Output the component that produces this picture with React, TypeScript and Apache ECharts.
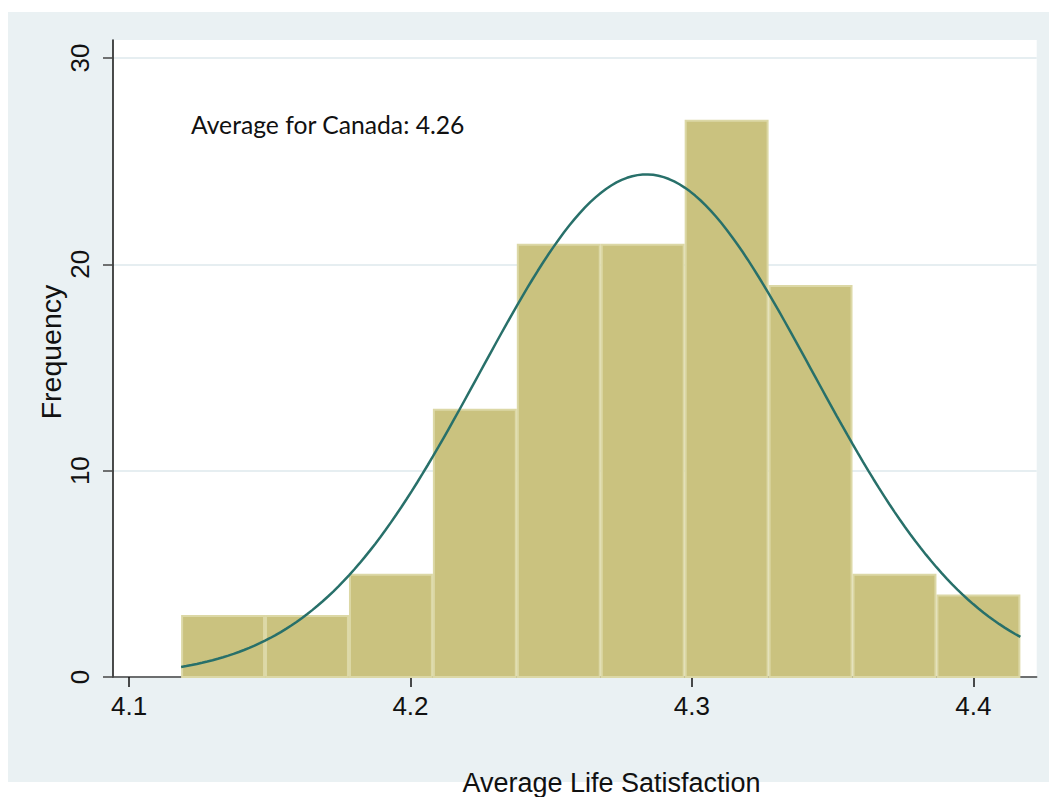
import React, { useEffect, useRef } from "react";
import * as echarts from "echarts";

// Histogram data
const binStart = 4.1185;
const binWidth = 0.02982;
const binCounts = [3, 3, 5, 13, 21, 21, 27, 19, 5, 4];
const xTicks = [4.1, 4.2, 4.3, 4.4];
const yTicks = [0, 10, 20, 30];
// Normal density overlay parameters
const curveMean = 4.2838;
const curveSd = 0.0591;
const curveSamples = 160;
const annotation = "Average for Canada: 4.26";
const xTitle = "Average Life Satisfaction";
const yTitle = "Frequency";

export default function App() {
  const ref = useRef<HTMLDivElement>(null);
  useEffect(() => {
    if (!ref.current) return;
    const chart = echarts.init(ref.current, undefined, { renderer: "svg" });
    const bars = binCounts.map((c, i) => [
      binStart + i * binWidth,
      binStart + (i + 1) * binWidth,
      c,
    ]);
    const total = binCounts.reduce((a, b) => a + b, 0);
    const binEnd = binStart + binCounts.length * binWidth;
    const curve: number[][] = [];
    for (let k = 0; k <= curveSamples; k++) {
      const x = binStart + ((binEnd - binStart) * k) / curveSamples;
      const z = (x - curveMean) / curveSd;
      const y =
        (total * binWidth * Math.exp(-0.5 * z * z)) /
        (curveSd * Math.sqrt(2 * Math.PI));
      curve.push([x, y]);
    }
    chart.setOption({
      animation: false,
      backgroundColor: "#ffffff",
      graphic: [
        {
          type: "rect",
          z: -100,
          silent: true,
          shape: { x: 8, y: 12, width: 1041, height: 770 },
          style: { fill: "#eaf1f3" },
        },
        {
          type: "text",
          x: 191,
          y: 124,
          z: 100,
          style: {
            text: annotation,
            font: '24.7px Lato, "Open Sans", sans-serif',
            fill: "#111",
            textVerticalAlign: "middle",
          },
        },
        {
          type: "text",
          x: 611.5,
          y: 782.5,
          z: 100,
          style: {
            text: xTitle,
            font: '27px "Liberation Sans", Arial, sans-serif',
            fill: "#111",
            textAlign: "center",
            textVerticalAlign: "middle",
          },
        },
        {
          type: "text",
          x: 51,
          y: 352,
          rotation: Math.PI / 2,
          z: 100,
          style: {
            text: yTitle,
            font: '28.5px "Liberation Sans", Arial, sans-serif',
            fill: "#111",
            textAlign: "center",
            textVerticalAlign: "middle",
          },
        },
      ],
      grid: {
        left: 113,
        top: 40,
        right: 12.3,
        bottom: 120,
        show: true,
        backgroundColor: "#ffffff",
        borderWidth: 0,
      },
      xAxis: {
        type: "value",
        min: 4.0943,
        max: 4.4225,
        axisLine: { show: true, lineStyle: { color: "#444", width: 1.5 } },
        axisTick: {
          show: true,
          length: 10,
          customValues: xTicks,
          lineStyle: { color: "#111", width: 1.5 },
        },
        axisLabel: {
          customValues: xTicks,
          margin: 16,
          color: "#111",
          fontSize: 26,
          fontFamily: '"Liberation Sans", Arial, sans-serif',
          formatter: (v: number) => v.toFixed(1),
        },
        splitLine: { show: false },
      },
      yAxis: {
        type: "value",
        min: 0,
        max: 30.87,
        axisLine: { show: true, lineStyle: { color: "#111", width: 1.5 } },
        axisTick: {
          show: true,
          length: 10,
          customValues: yTicks,
          lineStyle: { color: "#444", width: 1.5 },
        },
        axisLabel: {
          customValues: yTicks,
          margin: 20,
          rotate: 90,
          color: "#111",
          fontSize: 26,
          fontFamily: '"Liberation Sans", Arial, sans-serif',
        },
        splitLine: {
          show: true,
          lineStyle: { color: "#e6eef1", width: 2 },
        },
      },
      series: [
        {
          type: "custom",
          z: 2,
          data: bars,
          encode: { x: [0, 1], y: 2 },
          renderItem: (params: any, api: any) => {
            const x0 = api.value(0);
            const x1 = api.value(1);
            const h = api.value(2);
            const p0 = api.coord([x0, h]);
            const p1 = api.coord([x1, 0]);
            return {
              type: "rect",
              shape: {
                x: p0[0] + 1,
                y: p0[1] + 1,
                width: p1[0] - p0[0] - 2,
                height: p1[1] - p0[1] - 1,
              },
              style: { fill: "#cac27f", stroke: "#dcd8a6", lineWidth: 2 },
            };
          },
        },
        {
          type: "line",
          z: 3,
          data: curve,
          showSymbol: false,
          smooth: false,
          lineStyle: { color: "#28706a", width: 2.5 },
        },
      ],
    });
    return () => chart.dispose();
  }, []);
  return (
    <div
      ref={ref}
      style={{ position: "absolute", left: 0, top: 0, width: 1049, height: 797 }}
    />
  );
}
